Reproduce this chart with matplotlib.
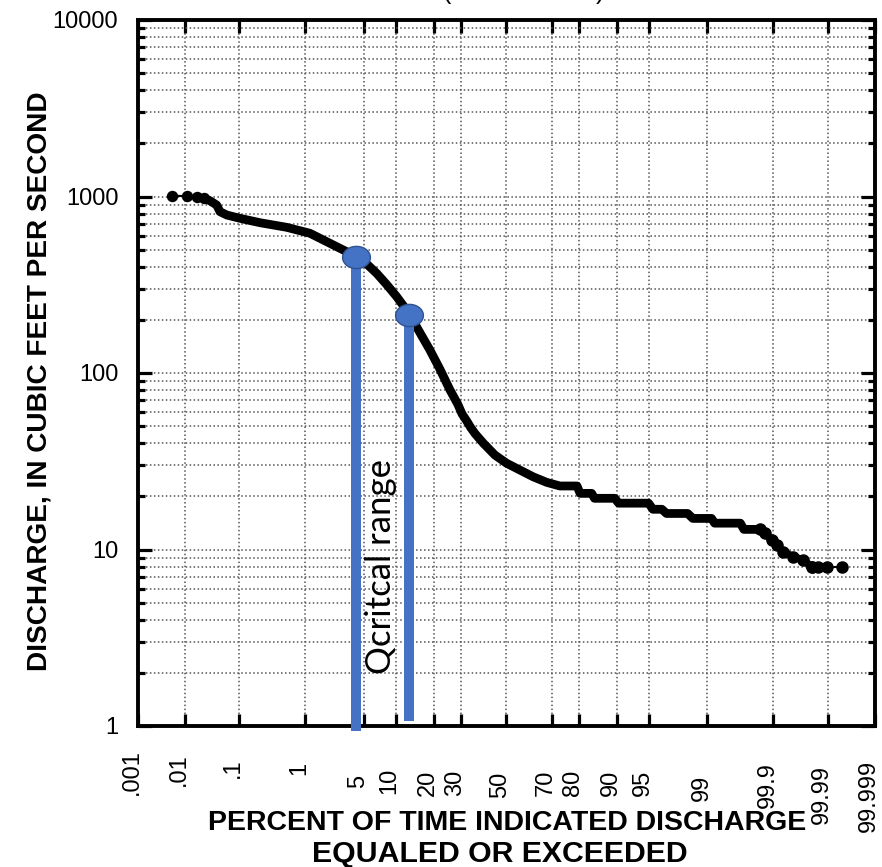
import statistics
import numpy as np
import matplotlib
matplotlib.use("Agg")
import matplotlib.pyplot as plt
from matplotlib import transforms
from matplotlib.path import Path
from matplotlib.ticker import FixedLocator, LogLocator, NullFormatter

plt.rcParams['font.family'] = ['Liberation Sans', 'DejaVu Sans']

# ---------------- data ----------------
# flow duration curve: percent of time exceeded vs discharge (cfs)
start_pct = [0.0055, 0.011, 0.017, 0.023]
start_q = [1010, 1005, 995, 975]

curve_pct = [0.023, 0.030, 0.040, 0.046, 0.061, 0.103, 0.22, 0.55, 1.15, 2.06,
             4.16, 5.30, 6.67, 8.30, 10.2, 11.64, 13.2, 15.87, 18.8, 22.1, 25.7,
             28.7, 30.4, 32.3, 34.1, 35.8, 39.5, 44.7, 50.1, 62.2,
             68.0, 73.2, 79.3, 80.3, 83.8, 84.6, 89.5, 90.3, 95.0, 95.5, 96.4,
             96.8, 98.2, 98.45, 99.12, 99.2, 99.66, 99.70, 99.83]
curve_q = [975, 947, 895, 820, 785, 752, 710, 669, 619, 543,
           456, 415, 367, 317, 271, 241, 213, 169, 135, 105, 80.1,
           66.5, 58.6, 53.5, 48.8, 45.4, 40.0, 34.3, 30.8, 25.8,
           24.0, 22.9, 22.9, 20.8, 20.8, 19.5, 19.5, 18.3, 18.3, 16.9, 16.9,
           16.0, 16.0, 15.0, 15.0, 14.1, 14.1, 13.0, 13.0]

tail_pct = [99.83, 99.861, 99.893, 99.912, 99.932, 99.955, 99.9704, 99.9794,
            99.9846, 99.9895, 99.9948]
tail_q = [13.0, 12.4, 11.3, 10.6, 9.7, 9.1, 8.7, 8.0, 8.0, 8.0, 8.0]

# critical range markers
qcrit_pct = [4.1, 13.1]
qcrit_q = [456, 213]
qcrit_bottom = [0.94, 1.07]

# axes ticks
x_ticks = [0.001, 0.01, 0.1, 1, 5, 10, 20, 30, 50, 70, 80, 90, 95, 99, 99.9, 99.99, 99.999]
x_labels = ['.001', '.01', '.1', '1', '5', '10', '20', '30', '50', '70', '80', '90',
            '95', '99', '99.9', '99.99', '99.999']
y_ticks = [1, 10, 100, 1000, 10000]
y_labels = ['1', '10', '100', '1000', '10000']

# ---------------- scale ----------------
ND = statistics.NormalDist()
_ppf = np.vectorize(ND.inv_cdf, otypes=[float])
_cdf = np.vectorize(ND.cdf, otypes=[float])


def fwd(p):
    p = np.asarray(p, dtype=float)
    q = np.clip(p / 100.0, 1e-12, 1 - 1e-12)
    return _ppf(q)


def inv(z):
    return _cdf(np.asarray(z, dtype=float)) * 100.0


fig = plt.figure(figsize=(8.82, 8.67), dpi=100)
ax = fig.add_axes([137.8 / 882, 1 - 726 / 867, (875 - 137.8) / 882, (726 - 20) / 867])
ax.set_xscale('function', functions=(fwd, inv))
ax.set_yscale('log')
ax.set_xlim(0.001, 99.999)
ax.set_ylim(1, 10000)

# grid
grid_kw = dict(color='#555555', linestyle=(0, (1, 1.6)), linewidth=1.1)
ax.xaxis.set_major_locator(FixedLocator(x_ticks))
ax.yaxis.set_major_locator(FixedLocator(y_ticks))
ax.yaxis.set_minor_locator(LogLocator(base=10, subs=np.arange(2, 10)))
ax.yaxis.set_minor_formatter(NullFormatter())
ax.set_yticklabels(y_labels)
ax.grid(True, which='major', axis='x', **grid_kw)
ax.grid(True, which='both', axis='y', **grid_kw)
ax.set_axisbelow(True)

for s in ax.spines.values():
    s.set_linewidth(2.8)
    s.set_color('black')

ax.tick_params(axis='x', which='major', direction='in', length=9, width=2.3,
               top=True, bottom=True, labelbottom=False)
ax.tick_params(axis='y', which='major', direction='in', length=10, width=2.3,
               left=True, right=True, labelsize=17, pad=14)
ax.tick_params(axis='y', which='minor', direction='in', length=5, width=2.3,
               left=True, right=True)

# x tick labels (rotated, slightly left of tick)
label_y_px = [772, 770, 768, 768, 781, 781, 783, 783, 785, 783, 783, 783, 783,
              788, 785, 795, 796]
blend = transforms.blended_transform_factory(ax.transData, fig.transFigure)
for xv, lab, ypx in zip(x_ticks, x_labels, label_y_px):
    ax.text(xv, 1 - ypx / 867, lab, rotation=90, ha='center', va='center',
            fontsize=17,
            transform=blend + transforms.ScaledTranslation(-6 / 100, 0, fig.dpi_scale_trans),
            clip_on=False)

# curve
ax.plot(start_pct, start_q, color='black', lw=1.5, marker='o', ms=7.2, zorder=4)
ax.plot(curve_pct, curve_q, color='black', lw=6.3, solid_capstyle='round',
        solid_joinstyle='round', zorder=4)
ax.plot(tail_pct[:8], tail_q[:8], color='black', lw=5.5, marker='o', ms=8,
        solid_capstyle='round', solid_joinstyle='round', zorder=4)
ax.plot(tail_pct[7:], tail_q[7:], color='black', lw=1.5, marker='o', ms=8, zorder=4)

# critical range
blue = '#4472C4'
for xp, qt, qb in zip(qcrit_pct, qcrit_q, qcrit_bottom):
    ax.plot([xp, xp], [qt, qb], color=blue, lw=7.2, solid_capstyle='butt',
            clip_on=False, zorder=5)
theta = np.linspace(0, 2 * np.pi, 80)
ellipse = Path(np.column_stack([1.25 * np.cos(theta), np.sin(theta)]))
ax.plot(qcrit_pct, qcrit_q, linestyle='none', marker=ellipse, ms=20,
        mfc=blue, mec='#2F528F', mew=1.0, zorder=6, clip_on=False)

ax.text((381 - 137.8) / 737.2, (726 - 567) / 706, 'Qcritcal range', rotation=90,
        ha='center', va='center', fontsize=25, family=['Lato', 'DejaVu Sans'],
        transform=ax.transAxes, zorder=7)

# axis titles
fig.text(40 / 882, 1 - 381 / 867, 'DISCHARGE, IN CUBIC FEET PER SECOND', rotation=90,
         ha='center', va='center', fontsize=20.2, fontweight='bold')
fig.text(507 / 882, 1 - 830 / 867, 'PERCENT OF TIME INDICATED DISCHARGE',
         ha='center', va='baseline', fontsize=20.5, fontweight='bold')
fig.text(500 / 882, 1 - 862 / 867, 'EQUALED OR EXCEEDED',
         ha='center', va='baseline', fontsize=21.8, fontweight='bold')

# cropped title remnants
fig.text(447 / 882, 1 - 4 / 867, '(', ha='center', va='bottom', fontsize=18)
fig.text(600 / 882, 1 - 4 / 867, ')', ha='center', va='bottom', fontsize=18)

fig.savefig('out.png', dpi=100)
